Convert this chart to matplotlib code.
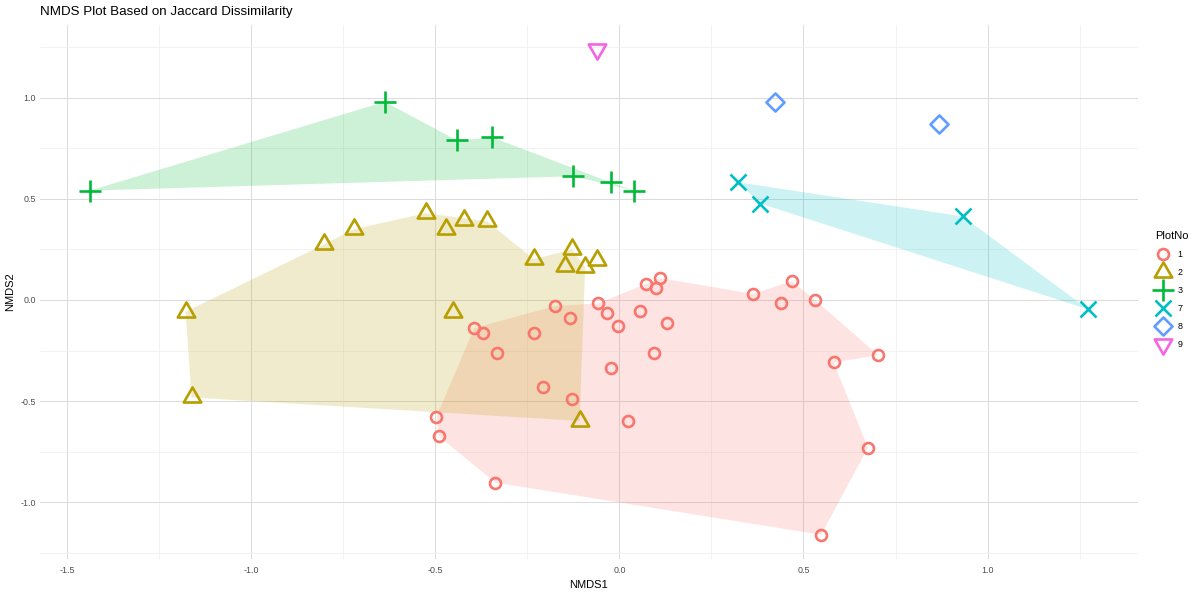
import matplotlib
matplotlib.use("Agg")
import matplotlib.pyplot as plt
from matplotlib.path import Path
from matplotlib.lines import Line2D
import numpy as np

plt.rcParams["font.family"] = ["Liberation Sans", "DejaVu Sans"]

# ---------------- data ----------------
title = "NMDS Plot Based on Jaccard Dissimilarity"
x_label = "NMDS1"
y_label = "NMDS2"
legend_title = "PlotNo"
groups = ["1", "2", "3", "7", "8", "9"]
colors = ["#F8766D", "#B79F00", "#00BA38", "#00BFC4", "#619CFF", "#F564E3"]

nmds1_p1 = [-0.497, -0.490, -0.337, -0.394, -0.370, -0.332, -0.232, -0.208, -0.130, -0.175,
            -0.135, -0.057, -0.034, -0.004, -0.022, 0.023, 0.057, 0.128, 0.093, 0.071,
            0.111, 0.099, 0.363, 0.440, 0.468, 0.530, 0.703, 0.582, 0.675, 0.548]
nmds2_p1 = [-0.578, -0.674, -0.903, -0.139, -0.164, -0.262, -0.164, -0.432, -0.492, -0.030,
            -0.088, -0.017, -0.065, -0.131, -0.334, -0.598, -0.053, -0.116, -0.263, 0.081,
            0.108, 0.058, 0.030, -0.014, 0.093, 0.002, -0.273, -0.309, -0.730, -1.161]
hull_p1 = [0, 3, 9, 11, 20, 22, 24, 25, 26, 27, 28, 29, 2, 1]

nmds1_p2 = [-1.178, -1.162, -0.802, -0.721, -0.526, -0.470, -0.423, -0.360, -0.452, -0.232,
            -0.129, -0.149, -0.093, -0.061, -0.108]
nmds2_p2 = [-0.058, -0.482, 0.275, 0.350, 0.429, 0.349, 0.396, 0.389, -0.058, 0.202,
            0.250, 0.167, 0.161, 0.199, -0.598]
hull_p2 = [0, 2, 3, 4, 7, 9, 10, 12, 14, 1]

nmds1_p3 = [-1.438, -0.637, -0.441, -0.345, -0.125, -0.024, 0.040]
nmds2_p3 = [0.541, 0.980, 0.789, 0.804, 0.612, 0.582, 0.541]
hull_p3 = [0, 1, 2, 3, 5, 6, 4]

nmds1_p7 = [0.323, 0.383, 0.933, 1.273]
nmds2_p7 = [0.582, 0.477, 0.413, -0.046]
hull_p7 = [0, 2, 3, 1]

nmds1_p8 = [0.422, 0.867]
nmds2_p8 = [0.979, 0.869]
hull_p8 = []

nmds1_p9 = [-0.062]
nmds2_p9 = [1.240]
hull_p9 = []

x_ticks = [-1.5, -1.0, -0.5, 0.0, 0.5, 1.0]
x_tick_labels = ["-1.5", "-1.0", "-0.5", "0.0", "0.5", "1.0"]
x_minor = [-1.25, -0.75, -0.25, 0.25, 0.75, 1.25]
y_ticks = [-1.0, -0.5, 0.0, 0.5, 1.0]
y_tick_labels = ["-1.0", "-0.5", "0.0", "0.5", "1.0"]
y_minor = [-1.25, -0.75, -0.25, 0.25, 0.75, 1.25]

xs = [nmds1_p1, nmds1_p2, nmds1_p3, nmds1_p7, nmds1_p8, nmds1_p9]
ys = [nmds2_p1, nmds2_p2, nmds2_p3, nmds2_p7, nmds2_p8, nmds2_p9]
hulls = [hull_p1, hull_p2, hull_p3, hull_p7, hull_p8, hull_p9]

# ---------------- marker shapes ----------------
def closed(verts):
    verts = list(verts) + [verts[0]]
    codes = [Path.MOVETO] + [Path.LINETO] * (len(verts) - 2) + [Path.CLOSEPOLY]
    return Path(verts, codes)

tri_up = closed([(0, 1), (-0.866, -0.5), (0.866, -0.5)])
tri_down = closed([(0, -1), (0.866, 0.5), (-0.866, 0.5)])
diamond = closed([(0, 1), (1, 0), (0, -1), (-1, 0)])

markers = ["o", tri_up, "+", "x", diamond, tri_down]
msizes = [7.9, 14.5, 15.5, 11.5, 13.0, 14.5]
mew = 1.9

# ---------------- figure ----------------
fig = plt.figure(figsize=(12, 5.96), dpi=100)
ax = fig.add_axes([40 / 1200, 1 - 559 / 596, 1098 / 1200, 534 / 596])

for x, y, h, c in zip(xs, ys, hulls, colors):
    if len(h) >= 3:
        ax.fill(np.array(x)[h], np.array(y)[h], color=c, alpha=0.2, lw=0, zorder=1)

for x, y, c, m, s in zip(xs, ys, colors, markers, msizes):
    ax.plot(x, y, ls="none", marker=m, mfc="none", mec=c, ms=s, mew=mew, zorder=3)

ax.margins(0.05)

ax.set_xticks(x_ticks)
ax.set_xticklabels(x_tick_labels)
ax.set_xticks(x_minor, minor=True)
ax.set_yticks(y_ticks)
ax.set_yticklabels(y_tick_labels)
ax.set_yticks(y_minor, minor=True)

ax.grid(which="major", color="#DADADA", lw=0.7, zorder=0)
ax.grid(which="minor", color="#EDEDED", lw=0.5, zorder=0)
ax.set_axisbelow(True)
for sp in ax.spines.values():
    sp.set_visible(False)
ax.tick_params(which="both", length=0)
ax.tick_params(which="major", labelsize=6.4, labelcolor="#4D4D4D")
ax.tick_params(axis="x", pad=5)
ax.tick_params(axis="y", pad=3)

ax.set_xlabel(x_label, fontsize=8, labelpad=4)
ax.set_ylabel(y_label, fontsize=8, labelpad=4)

fig.text(40 / 1200, 1 - 12.5 / 596, title, ha="left", va="center", fontsize=9.6)

handles = [Line2D([], [], ls="none", marker=m, mfc="none", mec=c, ms=s, mew=mew)
           for c, m, s in zip(colors, markers, msizes)]
ax.legend(handles, groups, title=legend_title, loc="upper left",
          bbox_to_anchor=(1155 / 1200, 1 - 231 / 596), bbox_transform=fig.transFigure,
          frameon=False, fontsize=6.4, title_fontsize=8, borderpad=0, borderaxespad=0,
          handlelength=1.7, handletextpad=0.8, labelspacing=1.02, alignment="left")

fig.savefig("out.png", dpi=100)
